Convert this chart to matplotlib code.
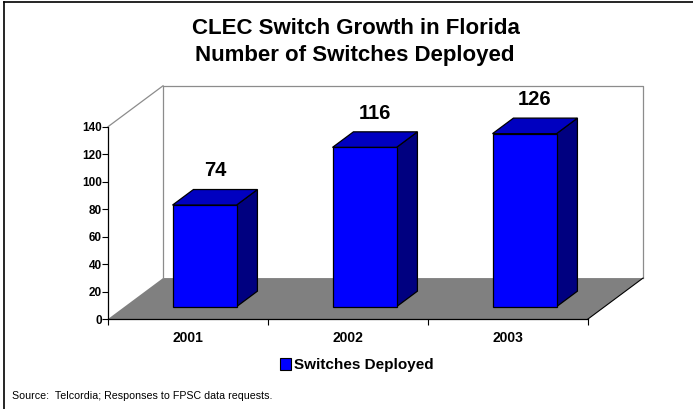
import matplotlib.pyplot as plt
from matplotlib.patches import Polygon, Patch
from matplotlib.lines import Line2D

plt.rcParams['font.family'] = ['Liberation Sans', 'DejaVu Sans']

years = ['2001', '2002', '2003']
switches = [74, 116, 126]
y_ticks = [0, 20, 40, 60, 80, 100, 120, 140]

y_max = 140
depth = (0.344, 29.8)      # offset of back wall, in (category, value) units
bar_width = 0.4
bar_front, bar_back = 0.30, 0.68   # bar depth as fraction of floor depth

face_col = '#0000ff'
top_col = '#0000c0'
side_col = '#000080'
floor_col = '#808080'
wall_edge = '#8c8c8c'


def shift(x, y, f):
    return (x + depth[0] * f, y + depth[1] * f)


W, H = 693, 409
fig = plt.figure(figsize=(W / 100, H / 100), dpi=100)
ax = fig.add_axes([108 / W, 1 - 319 / H, 480 / W, (319 - 126.7) / H])
x_lo, x_hi = -0.5, len(years) - 0.5
ax.set_xlim(x_lo, x_hi)
ax.set_ylim(0, y_max)

# floor
floor = Polygon([(x_lo, 0), (x_hi, 0), shift(x_hi, 0, 1), shift(x_lo, 0, 1)],
                closed=True, fc=floor_col, ec='none', clip_on=False, zorder=1)
ax.add_patch(floor)
ax.plot([x_hi, shift(x_hi, 0, 1)[0]], [0, shift(x_hi, 0, 1)[1]],
        color='black', lw=0.8, clip_on=False, zorder=2)

# back wall and left wall outline
bl, br = shift(x_lo, 0, 1), shift(x_hi, 0, 1)
tl, tr = shift(x_lo, y_max, 1), shift(x_hi, y_max, 1)
ax.plot([bl[0], tl[0], tr[0], br[0]], [bl[1], tl[1], tr[1], br[1]],
        color=wall_edge, lw=0.9, clip_on=False, zorder=1)
ax.plot([x_lo, tl[0]], [y_max, tl[1]], color=wall_edge, lw=0.9,
        clip_on=False, zorder=1)

# 3-d bars
for i, v in enumerate(switches):
    l, r = i - bar_width / 2, i + bar_width / 2
    front = [shift(l, 0, bar_front), shift(r, 0, bar_front),
             shift(r, v, bar_front), shift(l, v, bar_front)]
    top = [shift(l, v, bar_front), shift(r, v, bar_front),
           shift(r, v, bar_back), shift(l, v, bar_back)]
    side = [shift(r, 0, bar_front), shift(r, 0, bar_back),
            shift(r, v, bar_back), shift(r, v, bar_front)]
    for pts, c in ((side, side_col), (top, top_col), (front, face_col)):
        ax.add_patch(Polygon(pts, closed=True, fc=c, ec='black', lw=0.9,
                             joinstyle='miter', clip_on=False, zorder=3))
    ax.annotate(str(v), xy=shift(i, v, (bar_front + bar_back) / 2),
                xytext=(0, 19), textcoords='offset points',
                ha='center', va='center', fontsize=14.5, fontweight='bold',
                annotation_clip=False)

for s in ('top', 'right'):
    ax.spines[s].set_visible(False)
for s in ('left', 'bottom'):
    ax.spines[s].set_linewidth(0.9)
    ax.spines[s].set_zorder(4)

ax.set_yticks(y_ticks)
ax.set_yticklabels([str(t) for t in y_ticks], fontsize=8.5, fontweight='bold')
ax.tick_params(axis='y', direction='out', length=4, width=0.8, pad=0.5)

ax.set_xticks([x_lo + k for k in range(len(years) + 1)])
ax.set_xticklabels([])
ax.set_xticks(range(len(years)), minor=True)
ax.set_xticklabels(years, minor=True, fontsize=10, fontweight='bold')
ax.tick_params(axis='x', which='major', direction='out', length=4, width=0.8)
ax.tick_params(axis='x', which='minor', length=0, pad=9)

fig.text(356 / W, 1 - 28 / H, 'CLEC Switch Growth in Florida',
         ha='center', va='center', fontsize=16, fontweight='bold')
fig.text(355 / W, 1 - 56 / H, 'Number of Switches Deployed',
         ha='center', va='center', fontsize=16, fontweight='bold')

fig.legend(handles=[Patch(fc=face_col, ec='black', lw=0.8,
                          label='Switches Deployed')],
           loc='center', bbox_to_anchor=(357 / W, 1 - 365 / H),
           frameon=False, handlelength=0.7, handleheight=0.8,
           handletextpad=0.25, prop={'size': 11, 'weight': 'bold'})

fig.text(12 / W, 1 - 396 / H,
         'Source:  Telcordia; Responses to FPSC data requests.',
         ha='left', va='center', fontsize=7.7)

# outer frame (top and left edges)
fig.add_artist(Line2D([3.5 / W, 1], [1 - 2.3 / H, 1 - 2.3 / H],
                      color='black', lw=1.2, transform=fig.transFigure))
fig.add_artist(Line2D([3.5 / W, 3.5 / W], [1 - 2.3 / H, 0],
                      color='black', lw=1.2, transform=fig.transFigure))

fig.savefig('out.png', dpi=100)
